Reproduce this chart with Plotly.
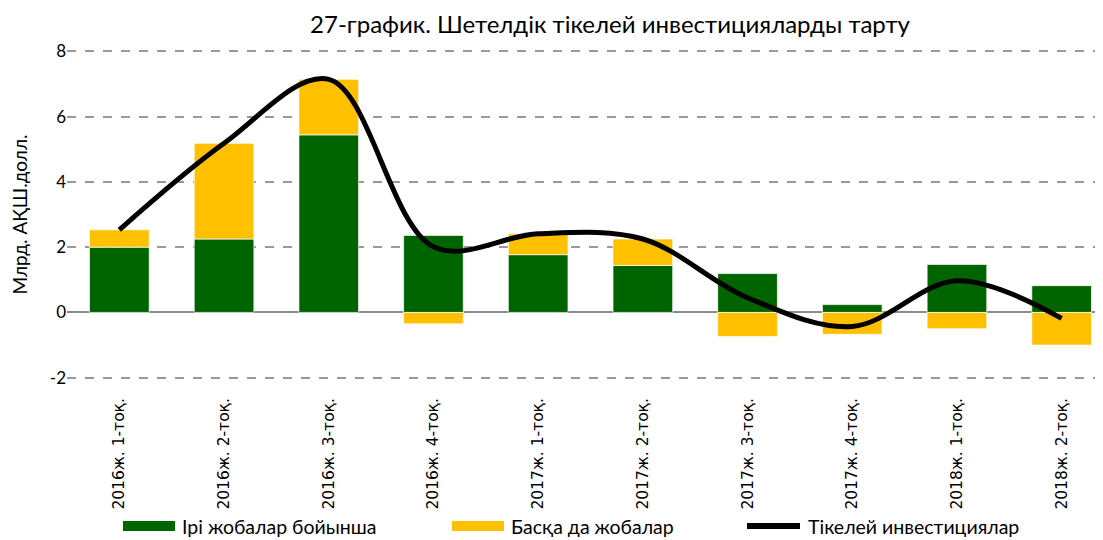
import plotly.graph_objects as go

categories = ["2016ж. 1-тоқ.", "2016ж. 2-тоқ.", "2016ж. 3-тоқ.", "2016ж. 4-тоқ.",
              "2017ж. 1-тоқ.", "2017ж. 2-тоқ.", "2017ж. 3-тоқ.", "2017ж. 4-тоқ.",
              "2018ж. 1-тоқ.", "2018ж. 2-тоқ."]
large_projects = [2.00, 2.25, 5.44, 2.36, 1.77, 1.44, 1.19, 0.24, 1.47, 0.82]
other_projects = [0.53, 2.93, 1.70, -0.35, 0.64, 0.81, -0.74, -0.67, -0.50, -1.00]
direct_investment = [2.53, 5.18, 7.14, 2.01, 2.41, 2.25, 0.45, -0.43, 0.97, -0.18]
y_ticks = [-2, 0, 2, 4, 6, 8]
series_names = ["Ірі жобалар бойынша", "Басқа да жобалар", "Тікелей инвестициялар"]

FONT = "Lato"
GREEN = "#006400"
YELLOW = "#FFC000"

# page body has an 8px margin: the figure is sized/positioned to compensate
W, H = 1095, 532
ML, MR, MT, MB = 59, 0, 40, 159
PW, PH = W - ML - MR, H - MT - MB
OFF = 8


def px_x(px):  # screen px -> paper x
    return (px - OFF - ML) / PW


def px_y(py):  # screen px -> paper y
    return (H - MB - (py - OFF)) / PH


fig = go.Figure()
fig.add_trace(go.Bar(
    x=categories, y=large_projects, name=series_names[0],
    marker=dict(color=GREEN, line=dict(color="rgba(255,255,255,0.7)", width=1)),
))
fig.add_trace(go.Bar(
    x=categories, y=other_projects, name=series_names[1],
    marker=dict(color=YELLOW, line=dict(color="rgba(255,255,255,0.7)", width=1)),
))
fig.add_trace(go.Scatter(
    x=categories, y=direct_investment, name=series_names[2],
    mode="lines", line=dict(color="black", width=5, shape="spline", smoothing=1.0),
))

# manual legend (wide rectangular swatches as in the original)
LEG_Y = 526
shapes = [
    dict(type="rect", xref="paper", yref="paper", x0=px_x(123), x1=px_x(175),
         y0=px_y(LEG_Y + 5), y1=px_y(LEG_Y - 5), fillcolor=GREEN, line=dict(width=0)),
    dict(type="rect", xref="paper", yref="paper", x0=px_x(452), x1=px_x(504),
         y0=px_y(LEG_Y + 5), y1=px_y(LEG_Y - 5), fillcolor=YELLOW, line=dict(width=0)),
    dict(type="line", xref="paper", yref="paper", x0=px_x(747), x1=px_x(800),
         y0=px_y(LEG_Y), y1=px_y(LEG_Y), line=dict(color="black", width=6)),
]
annotations = [
    dict(text=series_names[0], x=px_x(180), y=px_y(LEG_Y)),
    dict(text=series_names[1], x=px_x(509), y=px_y(LEG_Y)),
    dict(text=series_names[2], x=px_x(806), y=px_y(LEG_Y)),
]
for a in annotations:
    a.update(xref="paper", yref="paper", xanchor="left", yanchor="middle", showarrow=False,
             font=dict(family=FONT, size=19.5, color="black"))

fig.update_layout(
    width=W, height=H,
    barmode="relative", bargap=0.43,
    plot_bgcolor="white", paper_bgcolor="white",
    margin=dict(l=ML, r=MR, t=MT, b=MB, autoexpand=False),
    font=dict(family=FONT, size=15, color="black"),
    title=dict(text="27-график. Шетелдік тікелей инвестицияларды тарту",
               x=(610 - OFF) / W, xanchor="center", y=1 - (25 - OFF) / H, yanchor="middle",
               font=dict(family=FONT, size=24, color="black")),
    showlegend=False,
    shapes=shapes,
    annotations=annotations,
)
fig.update_xaxes(
    type="category", range=[-0.5, 9.395], automargin=False,
    tickangle=-90, tickfont=dict(family="DejaVu Sans", size=15.5, color="black"),
    ticklabelstandoff=13,
    showgrid=False, showline=False, ticks="",
)
fig.update_yaxes(
    range=[-2.1, 8.1], tickvals=y_ticks, ticktext=[str(v) for v in y_ticks],
    automargin=False,
    tickfont=dict(family=FONT, size=17, color="black"),
    showgrid=True, gridcolor="#999999", gridwidth=1.5, griddash="dash",
    zeroline=True, zerolinecolor="#8c8c8c", zerolinewidth=2,
    showline=False, ticks="",
    title=dict(text="Млрд. АҚШ.долл.", font=dict(family=FONT, size=19, color="black"), standoff=26),
)

fig.write_html("out.html")
